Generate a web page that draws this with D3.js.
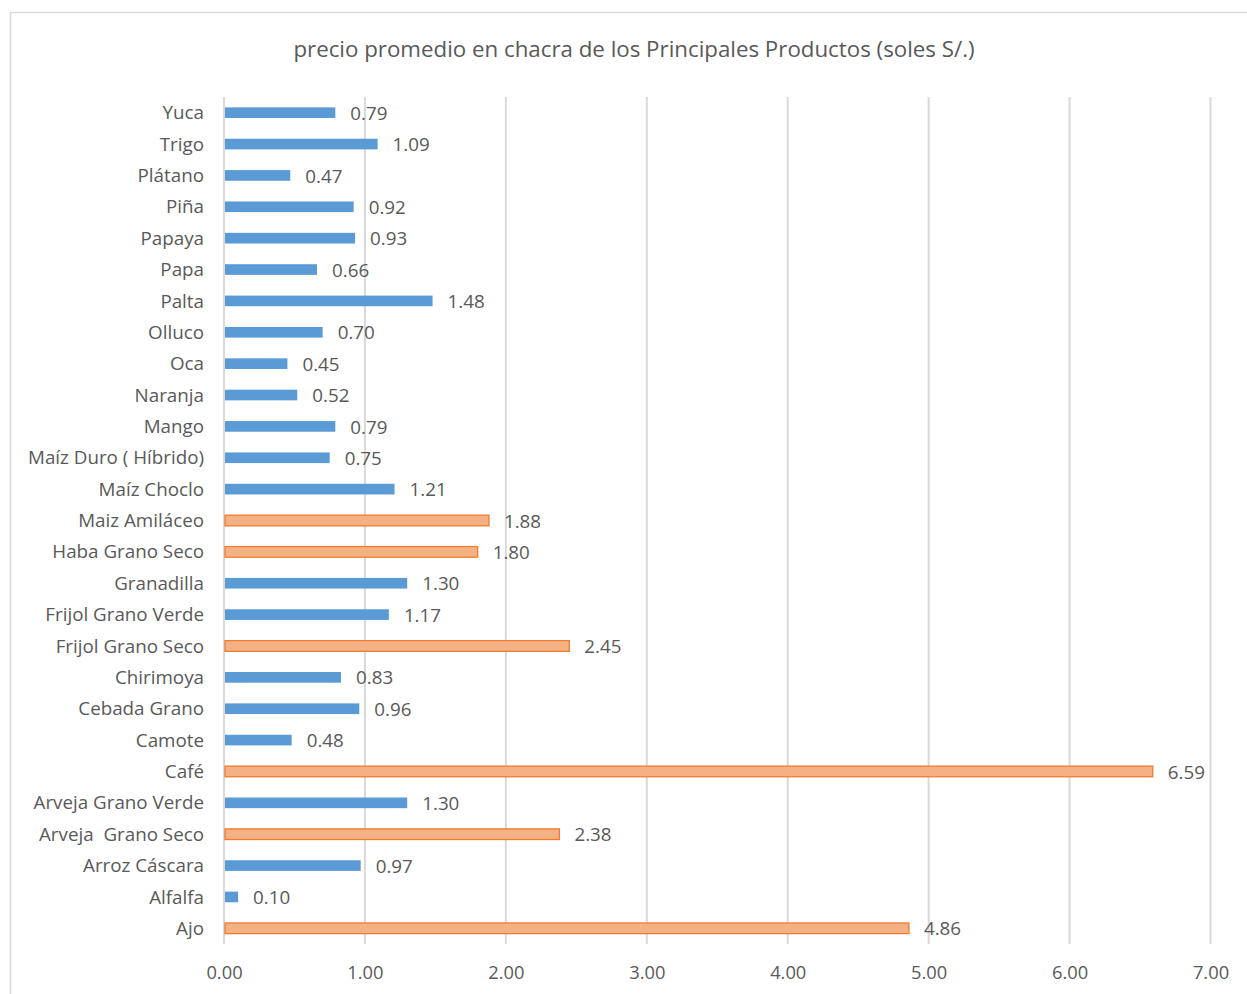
<!DOCTYPE html>
<html><head><meta charset="utf-8">
<script src="https://cdn.jsdelivr.net/npm/d3@7"></script>
<style>body{margin:0;background:#fff;font-family:"Open Sans",sans-serif;} text{white-space:pre;}</style>
</head><body>
<svg id="c" width="1247" height="994"></svg>
<script>
const categories = ["Yuca","Trigo","Plátano","Piña","Papaya","Papa","Palta","Olluco","Oca","Naranja","Mango","Maíz Duro ( Híbrido)","Maíz Choclo","Maiz Amiláceo","Haba Grano Seco","Granadilla","Frijol Grano Verde","Frijol Grano Seco","Chirimoya","Cebada Grano","Camote","Café","Arveja Grano Verde","Arveja  Grano Seco","Arroz Cáscara","Alfalfa","Ajo"];
const values = [0.79,1.09,0.47,0.92,0.93,0.66,1.48,0.70,0.45,0.52,0.79,0.75,1.21,1.88,1.80,1.30,1.17,2.45,0.83,0.96,0.48,6.59,1.30,2.38,0.97,0.10,4.86];
const highlighted = ["Maiz Amiláceo","Haba Grano Seco","Frijol Grano Seco","Café","Arveja  Grano Seco","Ajo"];
const xTicks = [0,1,2,3,4,5,6,7];
const title = "precio promedio en chacra de los Principales Productos (soles S/.)";

const svg = d3.select("#c");
const txt = "#595959";
const font = "'Open Sans', sans-serif";
svg.append("rect").attr("x",10.5).attr("y",12.5).attr("width",1300).attr("height",1100)
  .attr("fill","#fff").attr("stroke","#d9d9d9").attr("stroke-width",1.5);

const x = d3.scaleLinear().domain([0,7]).range([224,1210.5]);
const y = d3.scaleBand().domain(categories).range([97,944]).paddingInner(0.66).paddingOuter(0.33);

svg.append("text").attr("x",634).attr("y",57).attr("text-anchor","middle")
  .attr("font-size",22.3).attr("fill",txt).attr("font-family",font).text(title);

const g = svg.append("g");
g.selectAll("line.grid").data(xTicks).join("line").attr("class","grid")
  .attr("x1",d=>x(d)).attr("x2",d=>x(d)).attr("y1",97).attr("y2",944)
  .attr("stroke","#d9d9d9").attr("stroke-width",2);

const xAxis = d3.axisBottom(x).tickValues(xTicks).tickFormat(d3.format(".2f")).tickSize(0).tickPadding(0);
const ax = svg.append("g").attr("transform","translate(0,979)").call(xAxis);
ax.select(".domain").remove();
ax.selectAll("text").attr("font-size",18.3).attr("fill",txt).attr("font-family",font).attr("dy",0);

const yAxis = d3.axisLeft(y).tickSize(0).tickPadding(0);
const ay = svg.append("g").attr("transform","translate(204,0)").call(yAxis);
ay.select(".domain").remove();
ay.selectAll("text").attr("font-size",18.8).attr("fill",txt).attr("font-family",font).attr("dy","0.35em");

const data = categories.map((c,i)=>({c, v: values[i], h: highlighted.includes(c)}));
g.selectAll("rect.bar").data(data).join("rect").attr("class","bar")
  .attr("x",x(0)+1).attr("y",d=>y(d.c)).attr("height",y.bandwidth())
  .attr("width",d=>x(d.v)-x(0)-1)
  .attr("fill",d=>d.h?"#F4B183":"#5B9BD5")
  .attr("stroke",d=>d.h?"#ED7D31":"none").attr("stroke-width",1.3);

g.selectAll("text.lbl").data(data).join("text").attr("class","lbl")
  .attr("x",d=>x(d.v)+15).attr("y",d=>y(d.c)+y.bandwidth()/2).attr("dy","0.38em")
  .attr("font-size",18.8).attr("fill",txt).attr("font-family",font).text(d=>d3.format(".2f")(d.v));
</script>
</body></html>
